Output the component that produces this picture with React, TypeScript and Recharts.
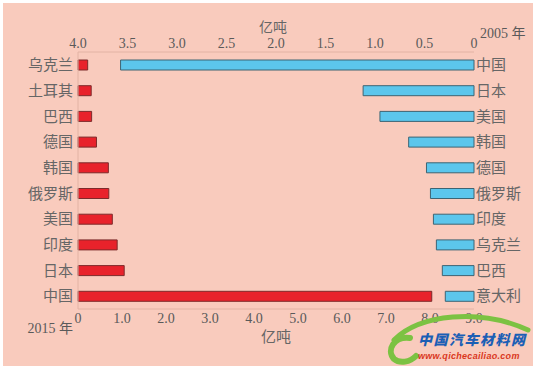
import { BarChart, Bar, XAxis, YAxis } from "recharts";

// 2015 (bottom axis, bars grow right from the left edge)
const cats2015 = ["乌克兰", "土耳其", "巴西", "德国", "韩国", "俄罗斯", "美国", "印度", "日本", "中国"];
const vals2015 = [0.22, 0.3, 0.31, 0.42, 0.69, 0.7, 0.78, 0.89, 1.05, 8.04];

// 2005 (top axis, reversed, bars grow left from the right edge)
const cats2005 = ["中国", "日本", "美国", "韩国", "德国", "俄罗斯", "印度", "乌克兰", "巴西", "意大利"];
const vals2005 = [3.57, 1.12, 0.95, 0.66, 0.48, 0.44, 0.41, 0.38, 0.32, 0.29];

const ticksTop = [0, 0.5, 1, 1.5, 2, 2.5, 3, 3.5, 4];
const ticksBottom = [0, 1, 2, 3, 4, 5, 6, 7, 8, 9];

const data = cats2015.map((c, i) => ({
    c2015: c,
    v2015: vals2015[i],
    c2005: cats2005[i],
    v2005: vals2005[i]
}));

const PINK = "#F9CBBD";
const AXIS = "#E2B3A4";
const numTick = { fontFamily: "Liberation Serif", fontSize: 14, fill: "#5a5a5a" };
const cjkTick = { fontFamily: "Noto Sans CJK SC", fontSize: 15, fill: "#666" };
const fmt = (v: number) => (v === 0 ? "0" : v.toFixed(1));

export default function App() {
    return (
        <div style={{ position: "fixed", left: 0, top: 0, width: 533, height: 366, background: "#fff" }}>
            <div style={{ position: "absolute", left: 3, top: 3, width: 530, height: 363, background: PINK }} />
            <div style={{ position: "absolute", left: 0, top: 0 }}>
                <BarChart
                    width={533}
                    height={366}
                    data={data}
                    layout="vertical"
                    margin={{ top: 36, right: 9, bottom: 37, left: 8 }}
                >
                    <XAxis
                        xAxisId="top"
                        orientation="top"
                        type="number"
                        domain={[0, 4]}
                        ticks={ticksTop}
                        reversed
                        height={16}
                        tickFormatter={fmt}
                        tick={numTick}
                        tickLine={false}
                        tickSize={0}
                        tickMargin={4}
                        axisLine={{ stroke: AXIS }}
                        interval={0}
                        label={{
                            value: "亿吨",
                            position: "top",
                            offset: 4,
                            dx: -3,
                            style: { fontFamily: "Noto Sans CJK SC", fontSize: 14, fill: "#666" }
                        }}
                    />
                    <XAxis
                        xAxisId="bottom"
                        orientation="bottom"
                        type="number"
                        domain={[0, 9]}
                        ticks={ticksBottom}
                        height={20}
                        tickFormatter={fmt}
                        tick={numTick}
                        tickLine={false}
                        tickSize={0}
                        tickMargin={4}
                        axisLine={{ stroke: AXIS }}
                        interval={0}
                        label={{
                            value: "亿吨",
                            position: "bottom",
                            offset: 2,
                            style: { fontFamily: "Noto Sans CJK SC", fontSize: 15, fill: "#666" }
                        }}
                    />
                    <YAxis
                        yAxisId="left"
                        type="category"
                        dataKey="c2015"
                        width={70}
                        tick={cjkTick}
                        tickLine={false}
                        tickSize={0}
                        tickMargin={5}
                        axisLine={{ stroke: AXIS }}
                        interval={0}
                    />
                    <YAxis
                        yAxisId="right"
                        orientation="right"
                        type="category"
                        dataKey="c2005"
                        width={50}
                        tick={cjkTick}
                        tickLine={false}
                        tickSize={0}
                        tickMargin={2}
                        axisLine={false}
                        interval={0}
                    />
                    <Bar
                        dataKey="v2015"
                        xAxisId="bottom"
                        yAxisId="left"
                        barSize={10}
                        fill="#E8222B"
                        stroke="#7d2b2b"
                        strokeWidth={1}
                        isAnimationActive={false}
                    />
                    <Bar
                        dataKey="v2005"
                        xAxisId="top"
                        yAxisId="right"
                        barSize={10}
                        fill="#5CC6EC"
                        stroke="#3d6473"
                        strokeWidth={1}
                        isAnimationActive={false}
                    />
                </BarChart>
            </div>
            {/* year captions */}
            <div
                style={{
                    position: "absolute",
                    left: 480,
                    top: 22,
                    fontFamily: "Liberation Serif, 'Noto Sans CJK SC'",
                    fontSize: 14,
                    color: "#5a5a5a",
                    whiteSpace: "nowrap"
                }}
            >
                2005 年
            </div>
            <div
                style={{
                    position: "absolute",
                    right: 533 - 73,
                    top: 317,
                    fontFamily: "Liberation Serif, 'Noto Sans CJK SC'",
                    fontSize: 14,
                    color: "#5a5a5a",
                    whiteSpace: "nowrap"
                }}
            >
                2015 年
            </div>
            {/* watermark */}
            <svg style={{ position: "absolute", left: 380, top: 310 }} width={153} height={56}>
                <path
                    d="M30 28 C 14 26, 6 40, 14 49 C 20 54, 30 52, 36 46"
                    fill="none"
                    stroke="#7cc242"
                    strokeWidth={6}
                    strokeLinecap="round"
                />
                <path
                    d="M14 30 C 40 4, 100 -2, 148 20"
                    fill="none"
                    stroke="#7cc242"
                    strokeWidth={5}
                    strokeLinecap="round"
                />
            </svg>
            <div
                style={{
                    position: "absolute",
                    left: 418,
                    top: 332,
                    fontFamily: "'Noto Sans CJK SC'",
                    fontWeight: 900,
                    fontStyle: "italic",
                    fontSize: 14,
                    lineHeight: "14px",
                    color: "#1c5fb5",
                    whiteSpace: "nowrap",
                    letterSpacing: 1.5
                }}
            >
                中国汽车材料网
            </div>
            <div
                style={{
                    position: "absolute",
                    left: 418,
                    top: 352,
                    fontFamily: "Liberation Sans",
                    fontWeight: 700,
                    fontStyle: "italic",
                    fontSize: 9,
                    lineHeight: "9px",
                    color: "#d9381e",
                    whiteSpace: "nowrap",
                    letterSpacing: 0.3
                }}
            >
                www.qichecailiao.com
            </div>
        </div>
    );
}
